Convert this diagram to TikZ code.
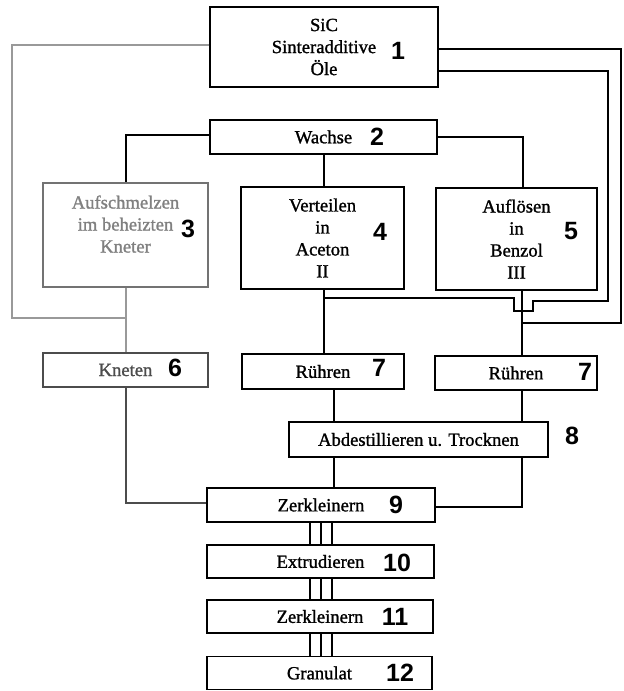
\documentclass[tikz,border=0pt]{standalone}
\usepackage{fontspec}
\setmainfont{Liberation Serif}
\newfontfamily\scanfont{Liberation Serif}[BoldFont={Liberation Serif},BoldFeatures={FakeBold=1.2}]
\newfontfamily\handfont{Liberation Sans}
\begin{document}
\begin{tikzpicture}[x=1pt,y=-1pt,
  box/.style={draw, line width=1.2pt, inner sep=0pt, align=center,
    font=\scanfont\bfseries\fontsize{18.6}{22}\selectfont},
  fadedbox/.style={box, draw=black!55, text=black!50},
  num/.style={font=\handfont\bfseries\fontsize{25}{25}\selectfont, inner sep=0pt},
  conn/.style={line width=1.2pt},
  faint/.style={conn, draw=black!40}]
\useasboundingbox (0,0) rectangle (624,691);
\fill[white] (0,0) rectangle (624,691);

% boxes
\node[box, minimum width=228pt, minimum height=80pt] (b1) at (324,47) {SiC\\Sinteradditive\\Öle};
\node[box, minimum width=227pt, minimum height=34pt] (b2) at (323.5,137) {Wachse};
\node[fadedbox, minimum width=165pt, minimum height=104pt] (b3) at (125.5,235) {Aufschmelzen\\im beheizten\\Kneter\\\mbox{}};
\node[box, minimum width=163pt, minimum height=102pt] (b4) at (322.5,238) {Verteilen\\in\\Aceton\\II};
\node[box, minimum width=161pt, minimum height=102pt] (b5) at (516.5,239) {Auflösen\\in\\Benzol\\III};
\node[box, draw=black!70, text=black!70, minimum width=165pt, minimum height=34pt] (b6) at (125.5,370) {Kneten};
\node[box, minimum width=162pt, minimum height=35pt] (b7a) at (323,371.5) {Rühren};
\node[box, minimum width=162pt, minimum height=34pt] (b7b) at (516,373) {Rühren};
\node[box, minimum width=259pt, minimum height=35pt] (b8) at (418.5,439.5) {Abdestillieren u. Trocknen};
\node[box, minimum width=228pt, minimum height=34pt] (b9) at (321,505) {Zerkleinern};
\node[box, minimum width=227pt, minimum height=33pt] (b10) at (320.5,561.5) {Extrudieren};
\node[box, minimum width=226pt, minimum height=33pt] (b11) at (320,616.5) {Zerkleinern};
\node[box, minimum width=225pt, minimum height=33pt] (b12) at (319.5,673) {Granulat};

% handwritten numbers
\node[num] (n1) at (398,51) {1};
\node[num] (n2) at (377,137) {2};
\node[num] (n3) at (188,229) {3};
\node[num] (n4) at (380,232) {4};
\node[num] (n5) at (571,231) {5};
\node[num] (n6) at (175,368) {6};
\node[num] (n7a) at (379,368) {7};
\node[num] (n7b) at (585,372) {7};
\node[num] (n8) at (572,436) {8};
\node[num] (n9) at (396,505) {9};
\node[num] (n10) at (397,563) {10};
\node[num] (n11) at (395,617) {11};
\node[num] (n12) at (400,673) {12};

% junction coordinates
\coordinate (j1) at (126,318);
\coordinate (j2) at (522,323);
\coordinate (j3) at (324,298);
\coordinate (c1) at (12,318);
\coordinate (c2) at (621,323);
\coordinate (c3) at (608,301);

% connectors from box 1
\draw[faint] (b1.west |- 0,45) -| (c1) -- (j1);
\draw[conn] (b1.east |- 0,49) -| (c2) -- (j2);
\draw[conn] (b1.east |- 0,71) -| (c3) -- (533,301) -- (533,311) -- (514,311) -- (514,298) -- (j3);

% from Wachse
\draw[conn] (b2.west |- 0,135) -| (b3.north -| 126,0);
\draw[conn] (b2.south -| 324,0) -- (b4.north -| 324,0);
\draw[conn] (b2.east |- 0,137) -| (b5.north -| 523,0);

% middle level
\draw[faint] (b3.south -| 126,0) -- (b6.north -| 126,0);
\draw[conn] (b4.south -| 324,0) -- (b7a.north -| 324,0);
\draw[conn] (b5.south -| 522,0) -- (b7b.north -| 522,0);

% lower level
\draw[conn, draw=black!70] (b6.south -| 126,0) |- (b9.west |- 0,503);
\draw[conn] (b7a.south -| 334,0) -- (b8.north -| 334,0);
\draw[conn] (b7b.south -| 522,0) -- (b8.north -| 522,0);
\draw[conn] (b8.south -| 334,0) -- (b9.north -| 334,0);
\draw[conn] (b8.south -| 522,0) |- (b9.east |- 0,507);

% triple lines
\foreach \x in {310,321,332}{
  \draw[conn] (b9.south -| \x,0) -- (b10.north -| \x,0);
  \draw[conn] (b10.south -| \x,0) -- (b11.north -| \x,0);
  \draw[conn] (b11.south -| \x,0) -- (b12.north -| \x,0);
}
\end{tikzpicture}
\end{document}
